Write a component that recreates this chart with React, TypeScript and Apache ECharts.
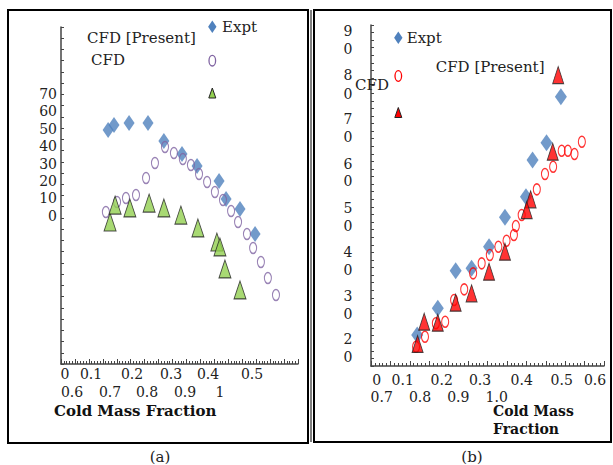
import React, { useEffect, useRef } from "react";
import * as echarts from "echarts";

// ---- Panel (a) data ----
const aExptX = [0.169, 0.19, 0.244, 0.312, 0.369, 0.434, 0.488, 0.567, 0.592, 0.642, 0.696];
const aExptY = [20.83, 21.28, 21.45, 21.45, 19.85, 18.7, 17.63, 16.29, 14.69, 13.8, 11.57];
const aCfdX = [0.161, 0.201, 0.233, 0.269, 0.305, 0.337, 0.373, 0.405, 0.437, 0.466, 0.495, 0.524, 0.552, 0.581, 0.61, 0.635, 0.667, 0.689, 0.717, 0.742, 0.771];
const aCfdY = [13.53, 14.42, 14.78, 15.04, 16.56, 17.89, 19.32, 18.78, 18.25, 17.71, 16.91, 16.2, 15.31, 14.6, 13.62, 12.64, 11.57, 10.33, 9.08, 7.66, 6.14];
const aPresX = [0.176, 0.194, 0.247, 0.316, 0.369, 0.43, 0.491, 0.559, 0.57, 0.588, 0.642];
const aPresY = [12.64, 14.15, 13.89, 14.33, 13.89, 13.26, 12.11, 10.86, 10.42, 8.46, 6.59];

// ---- Panel (b) data ----
const bExptX = [0.489, 0.452, 0.416, 0.399, 0.345, 0.304, 0.259, 0.218, 0.172, 0.119];
const bExptY = [71.07, 58.93, 54.36, 44.68, 39.24, 31.48, 25.78, 25.15, 15.23, 8.18];
const bCfdX = [0.543, 0.524, 0.507, 0.491, 0.469, 0.448, 0.427, 0.388, 0.373, 0.368, 0.349, 0.328, 0.306, 0.285, 0.263, 0.24, 0.214, 0.191, 0.167, 0.139, 0.116];
const bCfdY = [59.19, 55.95, 56.82, 56.82, 52.59, 50.67, 46.63, 39.85, 36.95, 34.57, 33.07, 31.48, 29.29, 27.1, 24.46, 20.24, 17.42, 11.69, 11.27, 7.73, 5.09];
const bPresX = [0.482, 0.468, 0.411, 0.401, 0.345, 0.304, 0.259, 0.218, 0.172, 0.137, 0.12];
const bPresY = [76.79, 56.55, 43.99, 41.17, 30.16, 24.89, 19.19, 16.7, 11.43, 11.69, 5.81];

// ---- Tick / label texts (as printed, wrapped) ----
const aYLabels = ["70", "60", "50", "40", "30", "20", "10", "0"];
const aXRow1 = ["0", "0.1", "0.2", "0.3", "0.4", "0.5"];
const aXRow2 = ["0.6", "0.7", "0.8", "0.9", "1"];
const bYLabels = ["9", "0", "8", "0", "7", "0", "6", "0", "5", "0", "4", "0", "3", "0", "2", "0"];
const bXRow1 = ["0", "0.1", "0.2", "0.3", "0.4", "0.5", "0.6"];
const bXRow2 = ["0.7", "0.8", "0.9", "1.0"];
const xTitle = "Cold Mass Fraction";
const legExpt = "Expt";
const legCfd = "CFD";
const legPresent = "CFD [Present]";

const ELLIPSE =
  "path://M0,-1C0.552,-1 1,-0.552 1,0C1,0.552 0.552,1 0,1C-0.552,1 -1,0.552 -1,0C-1,-0.552 -0.552,-1 0,-1Z";

const BLUE = "#4f81bd";
const PURPLE = "#8064a2";
const GREEN = "#92d050";
const RED = "#ff0000";
const SERIF = "'DejaVu Serif', 'Liberation Serif', serif";

function zip(xs: number[], ys: number[]) {
  return xs.map((x, i) => [x, ys[i]]);
}

export default function App() {
  const ref = useRef<HTMLDivElement>(null);
  useEffect(() => {
    if (!ref.current) return;
    const chart = echarts.init(ref.current, null, { renderer: "svg" });

    const txt = (text: string, x: number, y: number, extra: any = {}) => ({
      type: "text",
      x,
      y,
      z: 10,
      style: {
        text,
        fill: "#222",
        font: `15px ${SERIF}`,
        textAlign: "center",
        textVerticalAlign: "middle",
        ...extra,
      },
    });
    const tick = `14px ${SERIF}`;

    const graphics: any[] = [];
    // panel borders
    graphics.push({ type: "rect", shape: { x: 8, y: 10, width: 300, height: 433 }, style: { fill: "none", stroke: "#000", lineWidth: 2 } });
    graphics.push({ type: "rect", shape: { x: 314, y: 10, width: 297, height: 432 }, style: { fill: "none", stroke: "#000", lineWidth: 2 } });
    graphics.push({ type: "line", shape: { x1: 311, y1: 10, x2: 311, y2: 442 }, style: { stroke: "#000", lineWidth: 1 } });

    // panel (a) y labels
    const aYPos = [94, 111, 128.5, 146, 163.5, 181, 198, 216];
    aYLabels.forEach((t, i) => graphics.push(txt(t, 57, aYPos[i], { textAlign: "right", font: tick })));
    const aX1 = [65, 91, 132, 171, 208, 252];
    aXRow1.forEach((t, i) => graphics.push(txt(t, aX1[i], 373.5, { font: tick })));
    const aX2 = [72, 110, 147, 185, 220];
    aXRow2.forEach((t, i) => graphics.push(txt(t, aX2[i], 392, { font: tick })));
    graphics.push(txt(xTitle, 54, 411, { textAlign: "left", font: `bold 15px ${SERIF}`, fill: "#111" }));
    graphics.push(txt("(a)", 160, 457));

    // panel (a) legend
    graphics.push({ type: "polygon", shape: { points: [[212.3, 20.5], [216.5, 26.7], [212.3, 32.9], [208.1, 26.7]] }, style: { fill: BLUE } });
    graphics.push(txt(legExpt, 222, 26.7, { textAlign: "left" }));
    graphics.push(txt(legPresent, 87, 38.3, { textAlign: "left" }));
    graphics.push(txt(legCfd, 91, 60, { textAlign: "left" }));
    graphics.push({ type: "ellipse", shape: { cx: 212.3, cy: 60.7, rx: 3.3, ry: 5.3 }, style: { fill: "none", stroke: PURPLE, lineWidth: 1.3 } });
    graphics.push({ type: "polygon", shape: { points: [[212.3, 88], [215.8, 98], [208.8, 98]] }, style: { fill: GREEN, stroke: "#222", lineWidth: 1 } });

    // panel (b) y labels
    const bYPos = [30.7, 49.3, 75, 94.3, 119.3, 137.3, 164, 181, 208.3, 226, 251.7, 270, 296, 314, 339.3, 357.3];
    bYLabels.forEach((t, i) => graphics.push(txt(t, 348, bYPos[i], { font: tick })));
    const bX1 = [376.7, 402.7, 441.7, 480, 521.7, 561.7, 595];
    bXRow1.forEach((t, i) => graphics.push(txt(t, bX1[i], 380, { font: tick })));
    const bX2 = [381.7, 420, 458.3, 496.7];
    bXRow2.forEach((t, i) => graphics.push(txt(t, bX2[i], 397, { font: tick })));
    graphics.push(txt("Cold Mass", 493, 411, { textAlign: "left", font: `bold 14px ${SERIF}`, fill: "#111" }));
    graphics.push(txt("Fraction", 493, 428.5, { textAlign: "left", font: `bold 14px ${SERIF}`, fill: "#111" }));
    graphics.push(txt("(b)", 472, 457));

    // panel (b) legend
    graphics.push({ type: "polygon", shape: { points: [[398.3, 31.5], [402.5, 37.7], [398.3, 43.9], [394.1, 37.7]] }, style: { fill: BLUE } });
    graphics.push(txt(legExpt, 406.7, 37.7, { textAlign: "left" }));
    graphics.push({ type: "ellipse", shape: { cx: 398.3, cy: 76, rx: 3.3, ry: 5.3 }, style: { fill: "none", stroke: RED, lineWidth: 1.3 } });
    graphics.push(txt(legCfd, 355, 85, { textAlign: "left" }));
    graphics.push(txt(legPresent, 435.7, 66.7, { textAlign: "left" }));
    graphics.push({ type: "polygon", shape: { points: [[398.3, 107.5], [401.8, 117.5], [394.8, 117.5]] }, style: { fill: RED, stroke: "#222", lineWidth: 1 } });

    const axisLine = { show: true, lineStyle: { color: "#444", width: 1.5 } };

    chart.setOption({
      animation: false,
      backgroundColor: "#fff",
      grid: [
        { left: 61, top: 27, width: 237, height: 337, containLabel: false },
        { left: 371, top: 25, width: 233, height: 341, containLabel: false },
      ],
      xAxis: [
        {
          gridIndex: 0, type: "value", min: 0, max: 0.85, interval: 0.05,
          axisLine, splitLine: { show: false }, axisLabel: { show: false },
          axisTick: { show: true, inside: true, length: 5, lineStyle: { color: "#444" } },
          minorTick: { show: true, splitNumber: 5, length: 3, lineStyle: { color: "#444" } },
        },
        {
          gridIndex: 1, type: "value", min: 0, max: 0.6, interval: 0.05,
          axisLine, splitLine: { show: false }, axisLabel: { show: false },
          axisTick: { show: true, inside: true, length: 5, lineStyle: { color: "#444" } },
          minorTick: { show: true, splitNumber: 5, length: 3, lineStyle: { color: "#444" } },
        },
      ],
      yAxis: [
        {
          gridIndex: 0, type: "value", min: 0, max: 30, interval: 1,
          axisLine, splitLine: { show: false }, axisLabel: { show: false },
          axisTick: { show: true, inside: true, length: 3, lineStyle: { color: "#444" } },
        },
        {
          gridIndex: 1, type: "value", min: 0, max: 90, interval: 2,
          axisLine, splitLine: { show: false }, axisLabel: { show: false },
          axisTick: { show: true, inside: true, length: 3, lineStyle: { color: "#444" } },
        },
      ],
      series: [
        { type: "scatter", xAxisIndex: 0, yAxisIndex: 0, data: zip(aExptX, aExptY), symbol: "diamond", symbolSize: [11, 16], itemStyle: { color: BLUE } },
        { type: "scatter", xAxisIndex: 0, yAxisIndex: 0, data: zip(aCfdX, aCfdY), symbol: ELLIPSE, symbolSize: [7, 11], itemStyle: { color: "rgba(0,0,0,0)", borderColor: PURPLE, borderWidth: 1.3 } },
        { type: "scatter", xAxisIndex: 0, yAxisIndex: 0, data: zip(aPresX, aPresY), symbol: "triangle", symbolSize: [12, 18], itemStyle: { color: GREEN, borderColor: "#222", borderWidth: 1 } },
        { type: "scatter", xAxisIndex: 1, yAxisIndex: 1, data: zip(bExptX, bExptY), symbol: "diamond", symbolSize: [12, 17], itemStyle: { color: BLUE } },
        { type: "scatter", xAxisIndex: 1, yAxisIndex: 1, data: zip(bCfdX, bCfdY), symbol: ELLIPSE, symbolSize: [7, 11], itemStyle: { color: "rgba(0,0,0,0)", borderColor: RED, borderWidth: 1.3 } },
        { type: "scatter", xAxisIndex: 1, yAxisIndex: 1, data: zip(bPresX, bPresY), symbol: "triangle", symbolSize: [11, 17], itemStyle: { color: RED, borderColor: "#222", borderWidth: 1 } },
      ],
      graphic: graphics,
    });
    return () => chart.dispose();
  }, []);
  return <div ref={ref} style={{ position: "absolute", left: 0, top: 0, width: 613, height: 465 }} />;
}
